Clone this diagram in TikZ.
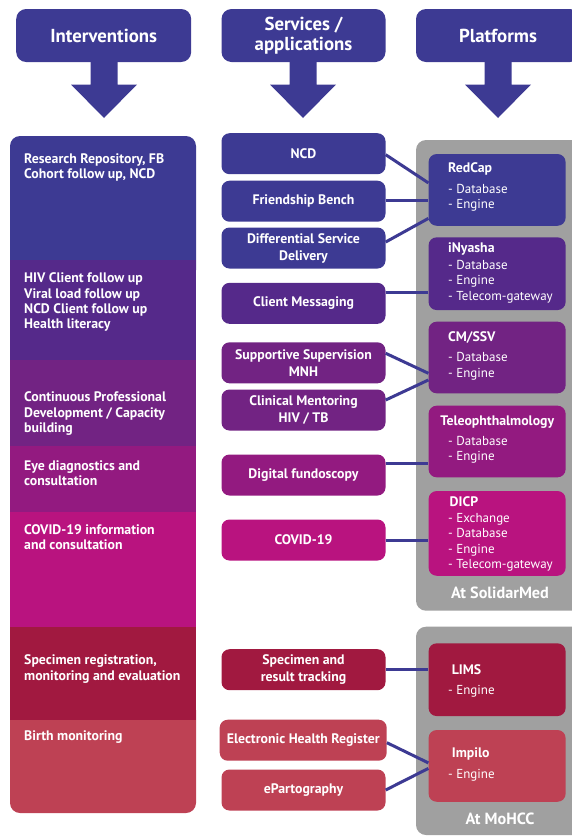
\documentclass[tikz,border=0pt]{standalone}
\usepackage{fontspec}
\setmainfont{PT Sans}
\usepackage{tikz}

\definecolor{cBlue}{HTML}{3D3A93}
\definecolor{cPurple}{HTML}{55298A}
\definecolor{cViolet}{HTML}{722383}
\definecolor{cPlum}{HTML}{931A80}
\definecolor{cMagenta}{HTML}{B9137F}
\definecolor{cCrimson}{HTML}{A11940}
\definecolor{cRose}{HTML}{BE4154}
\definecolor{cGray}{HTML}{A0A0A0}

\begin{document}
\begin{tikzpicture}[x=1pt, y=-1pt,
    head/.style={fill=cBlue, rounded corners=10pt, minimum height=53pt, text=white, align=center, inner sep=0pt, font=\bfseries\fontsize{18.8}{20}\selectfont},
    svc/.style={rounded corners=8pt, minimum width=164pt, minimum height=41pt, text=white, align=center, inner sep=0pt, font=\bfseries\fontsize{13.8}{17}\selectfont},
    plat/.style={rounded corners=8pt, minimum width=137pt, inner sep=0pt},
    ptitle/.style={anchor=west, text=white, inner sep=0pt, font=\bfseries\fontsize{13.8}{15.4}\selectfont},
    plist/.style={anchor=west, text=white, align=left, inner sep=0pt, font=\fontsize{13}{15.4}\selectfont},
    band/.style={anchor=west, text=white, align=left, inner sep=0pt, font=\bfseries\fontsize{13.8}{15.4}\selectfont},
    site/.style={text=white, inner sep=0pt, font=\bfseries\fontsize{16.2}{18}\selectfont},
    link/.style={draw=cBlue, line width=3pt}]

    \useasboundingbox (0,0) rectangle (572,836);

    % arrow tips under the three headers
    \coordinate (T1) at (104, 62);
    \coordinate (T2) at (303, 62);
    \coordinate (T3) at (498, 62);

    % headers
    \node[head, minimum width=175pt] (hint) at (103.7, 35.5) {Interventions};
    \node[head, minimum width=164pt] (hsvc) at (303.5, 35.5) {Services /\\applications};
    \node[head, minimum width=164pt] (hplt) at (498, 35.5) {Platforms};

    \fill[cBlue, shift={(T1)}] (-13.5,0) -- (13.5,0) -- (13.5,22.5) -- (33,22.5) -- (0,56) -- (-33,22.5) -- (-13.5,22.5) -- cycle;
    \fill[cBlue, shift={(T2)}] (-13.5,0) -- (13.5,0) -- (13.5,22.5) -- (33,22.5) -- (0,56) -- (-33,22.5) -- (-13.5,22.5) -- cycle;
    \fill[cBlue, shift={(T3)}] (-13.5,0) -- (13.5,0) -- (13.5,22.5) -- (33,22.5) -- (0,56) -- (-33,22.5) -- (-13.5,22.5) -- cycle;

    % interventions column
    \fill[cBlue, rounded corners=10pt] (10,136) rectangle (196,280); % top
    \fill[cRose, rounded corners=10pt] (10,700) rectangle (196,813); % bottom
    \fill[cPurple] (10,260) rectangle (196,360);
    \fill[cViolet] (10,360) rectangle (196,446);
    \fill[cPlum] (10,446) rectangle (196,512);
    \fill[cMagenta] (10,512) rectangle (196,627);
    \fill[cCrimson] (10,627) rectangle (196,720);

    \node[band] (i1) at (24, 167.7) {Research Repository, FB\\Cohort follow up, NCD};
    \node[band] (i2) at (24, 302.2) {HIV Client follow up\\Viral load follow up\\NCD Client follow up\\Health literacy};
    \node[band] (i3) at (24, 413.8) {Continuous Professional\\Development / Capacity\\building};
    \node[band] (i4) at (24, 473.4) {Eye diagnostics and\\consultation};
    \node[band] (i5) at (24, 537) {COVID-19 information\\and consultation};
    \node[band] (i6) at (24, 669) {Specimen registration,\\monitoring and evaluation};
    \node[band] (i7) at (24, 737) {Birth monitoring};

    % platform sites
    \fill[cGray, rounded corners=10pt] (416,140) rectangle (600,610.7); % SolidarMed
    \fill[cGray, rounded corners=10pt] (416,626.7) rectangle (600,835); % MoHCC
    \node[site] (solid) at (500, 592.7) {At SolidarMed};
    \node[site] (mohcc) at (500, 819.3) {At MoHCC};

    % services
    \node[svc, fill=cBlue] (ncd) at (303.5, 153.7) {NCD};
    \node[svc, fill=cBlue] (fb) at (303.5, 201.2) {Friendship Bench};
    \node[svc, fill=cBlue] (dsd) at (303.5, 248) {Differential Service\\Delivery};
    \node[svc, fill=cPurple] (msg) at (303.5, 303.3) {Client Messaging};
    \node[svc, fill=cViolet] (ssv) at (303.5, 362.8) {Supportive Supervision\\MNH};
    \node[svc, fill=cViolet] (cment) at (303.5, 410) {Clinical Mentoring\\HIV / TB};
    \node[svc, fill=cPlum] (fundo) at (303.5, 475) {Digital fundoscopy};
    \node[svc, fill=cMagenta] (covid) at (303.5, 540) {COVID-19};
    \node[svc, fill=cCrimson] (spec) at (303.5, 669.7) {Specimen and\\result tracking};
    \node[svc, fill=cRose, minimum width=167pt] (ehr) at (303.2, 740.2) {Electronic Health Register};
    \node[svc, fill=cRose] (epart) at (303.5, 790) {ePartography};

    % platforms
    \node[plat, fill=cBlue, minimum height=71.7pt] (redcap) at (497.1, 189.9) {};
    \node[plat, fill=cPurple, minimum height=72.7pt] (inyasha) at (497.1, 273.7) {};
    \node[plat, fill=cViolet, minimum height=71.6pt] (cmssv) at (497.1, 357.5) {};
    \node[plat, fill=cPlum, minimum height=71.6pt] (tele) at (497.1, 441.5) {};
    \node[plat, fill=cMagenta, minimum height=84.7pt] (dicp) at (497.1, 533.4) {};
    \node[plat, fill=cCrimson, minimum height=72.7pt] (lims) at (497.1, 679.7) {};
    \node[plat, fill=cRose, minimum height=71.7pt] (impilo) at (497.1, 765.9) {};

    \node[ptitle] (redcapT) at (448, 169.3) {RedCap};
    \node[plist] (redcapL) at (448, 198) {- Database\\- Engine};
    \node[ptitle] (inyashaT) at (448, 249) {iNyasha};
    \node[plist] (inyashaL) at (448, 281.7) {- Database\\- Engine\\- Telecom-gateway};
    \node[ptitle] (cmssvT) at (448, 337.3) {CM/SSV};
    \node[plist] (cmssvL) at (448, 366.4) {- Database\\- Engine};
    \node[ptitle, anchor=center] (teleT) at (497.3, 422) {Teleophthalmology};
    \node[plist] (teleL) at (448, 449.9) {- Database\\- Engine};
    \node[ptitle] (dicpT) at (449.5, 501.3) {DICP};
    \node[plist] (dicpL) at (448, 542.4) {- Exchange\\- Database\\- Engine\\- Telecom-gateway};
    \node[ptitle] (limsT) at (451.7, 670) {LIMS};
    \node[plist] (limsL) at (448, 691.7) {- Engine};
    \node[ptitle] (impiloT) at (451.7, 753.7) {Impilo};
    \node[plist] (impiloL) at (448, 775) {- Engine};

    % links
    \draw[link] ([yshift=-1pt]ncd.east) -- ([yshift=7pt]redcap.west);
    \draw[link] ([yshift=0.5pt]fb.east) -- ([yshift=0.5pt]fb.east -| redcap.west);
    \draw[link] ([yshift=6pt]dsd.east) -- ([yshift=-28.5pt]redcap.west);
    \draw[link] ([yshift=11pt]msg.east) -- ([yshift=11pt]msg.east -| inyasha.west);
    \draw[link] ([yshift=9.5pt]ssv.east) -- ([yshift=-15.8pt]cmssv.west);
    \draw[link] ([yshift=10pt]cment.east) -- ([yshift=-22.5pt]cmssv.west);
    \draw[link] ([yshift=11.7pt]fundo.east) -- ([yshift=11.7pt]fundo.east -| tele.west);
    \draw[link] (covid.east) -- (covid.east -| dicp.west);
    \draw[link] (spec.east) -- (spec.east -| lims.west);
    \draw[link] ([yshift=-2.5pt]ehr.east) -- ([yshift=3pt]impilo.west);
    \draw[link] (epart.east) -- ([yshift=-2.5pt]impilo.west);

\end{tikzpicture}
\end{document}
